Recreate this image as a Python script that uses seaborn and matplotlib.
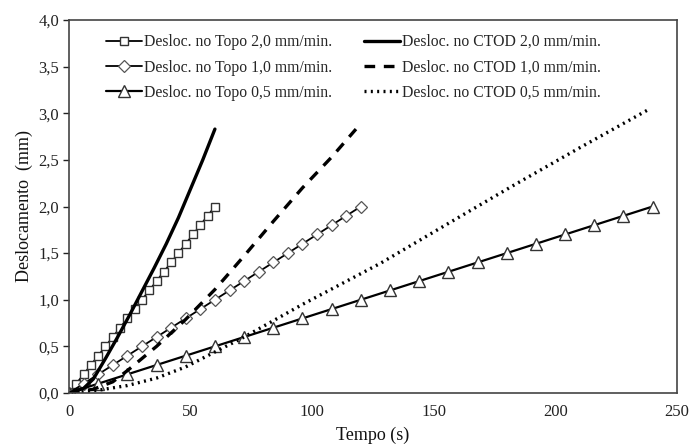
import matplotlib
matplotlib.use("Agg")
import matplotlib.pyplot as plt
import seaborn as sns
import pandas as pd

# ---- data ----
topo20_t = [0, 3, 6, 9, 12, 15, 18, 21, 24, 27, 30, 33, 36, 39, 42, 45, 48, 51, 54, 57, 60]
topo20_y = [0.0, 0.1, 0.2, 0.3, 0.4, 0.5, 0.6, 0.7, 0.8, 0.9, 1.0, 1.1, 1.2, 1.3, 1.4, 1.5, 1.6, 1.7, 1.8, 1.9, 2.0]

topo10_t = [0, 6, 12, 18, 24, 30, 36, 42, 48, 54, 60, 66, 72, 78, 84, 90, 96, 102, 108, 114, 120]
topo10_y = [0.0, 0.1, 0.2, 0.3, 0.4, 0.5, 0.6, 0.7, 0.8, 0.9, 1.0, 1.1, 1.2, 1.3, 1.4, 1.5, 1.6, 1.7, 1.8, 1.9, 2.0]

topo05_t = [0, 12, 24, 36, 48, 60, 72, 84, 96, 108, 120, 132, 144, 156, 168, 180, 192, 204, 216, 228, 240]
topo05_y = [0.0, 0.1, 0.2, 0.3, 0.4, 0.5, 0.6, 0.7, 0.8, 0.9, 1.0, 1.1, 1.2, 1.3, 1.4, 1.5, 1.6, 1.7, 1.8, 1.9, 2.0]

ctod20_t = [0, 6, 10, 15, 20, 25, 30, 35, 40, 45, 50, 55, 60]
ctod20_y = [0.0, 0.05, 0.15, 0.37, 0.60, 0.84, 1.09, 1.34, 1.60, 1.88, 2.19, 2.50, 2.83]

ctod10_t = [0, 10, 18, 24, 36, 48, 60, 72, 84, 96, 108, 118]
ctod10_y = [0.0, 0.04, 0.12, 0.24, 0.50, 0.79, 1.11, 1.47, 1.84, 2.20, 2.53, 2.83]

ctod05_t = [0, 12, 24, 36, 48, 60, 72, 96, 128, 160, 183, 210, 239]
ctod05_y = [0.0, 0.03, 0.08, 0.16, 0.28, 0.44, 0.60, 0.95, 1.39, 1.88, 2.23, 2.63, 3.05]

labels = ["Desloc. no Topo 2,0 mm/min.", "Desloc. no Topo 1,0 mm/min.",
          "Desloc. no Topo 0,5 mm/min.", "Desloc. no CTOD 2,0 mm/min.",
          "Desloc. no CTOD 1,0 mm/min.", "Desloc. no CTOD 0,5 mm/min."]

x_ticks = [0, 50, 100, 150, 200, 250]
y_ticks = [0.0, 0.5, 1.0, 1.5, 2.0, 2.5, 3.0, 3.5, 4.0]
y_ticklabels = ["0,0", "0,5", "1,0", "1,5", "2,0", "2,5", "3,0", "3,5", "4,0"]

# ---- style ----
sns.set_theme(style="white")
plt.rcParams["font.family"] = ["Liberation Serif", "DejaVu Serif"]

fig = plt.figure(figsize=(6.9, 4.46), dpi=100)
ax = fig.add_axes([69 / 690, 1 - 393 / 446, (677 - 69) / 690, (393 - 20) / 446])

def draw(t, y, label, **kw):
    df = pd.DataFrame({"t": t, "y": y})
    sns.lineplot(data=df, x="t", y="y", ax=ax, label=label, sort=False,
                 estimator=None, color="black", **kw)

mk = dict(markerfacecolor="white", markeredgecolor="#333333", markeredgewidth=1.0)
draw(topo20_t, topo20_y, labels[0], linewidth=1.3, marker="s", markersize=5.5, **mk)
draw(topo10_t, topo10_y, labels[1], linewidth=1.3, marker="D", markersize=6.3,
     markerfacecolor="white", markeredgecolor="#555555", markeredgewidth=0.9)
draw(topo05_t, topo05_y, labels[2], linewidth=1.6, marker="^", markersize=8, **mk)
draw(ctod20_t, ctod20_y, labels[3], linewidth=2.4, linestyle="-")
draw(ctod10_t, ctod10_y, labels[4], linewidth=2.4, linestyle=(0, (3.2, 2.6)))
draw(ctod05_t, ctod05_y, labels[5], linewidth=2.4, linestyle=(0, (0.6, 1.3)))

ax.set_xlim(0, 250)
ax.set_ylim(0, 4.0)
ax.set_xticks(x_ticks)
ax.set_xticklabels([str(v) for v in x_ticks])
ax.set_yticks(y_ticks)
ax.set_yticklabels(y_ticklabels)
ax.tick_params(axis="x", length=0, pad=8, labelsize=12, colors="#222222")
ax.tick_params(axis="y", length=4, width=1, direction="out", left=True, pad=3,
               labelsize=12, colors="#222222")
for s in ax.spines.values():
    s.set_visible(True)
    s.set_color("#444444")
    s.set_linewidth(1.2)

ax.set_xlabel("Tempo (s)", fontsize=13, labelpad=5, color="#111111")
ax.set_ylabel("Deslocamento  (mm)", fontsize=13, labelpad=4, color="#111111")

leg = ax.legend(loc="upper left", bbox_to_anchor=(0.037, 1.0), ncol=2, frameon=False,
                fontsize=11.3, handlelength=2.3, handletextpad=0.15,
                columnspacing=2.0, labelspacing=0.6)

fig.savefig("out.png", dpi=100)
